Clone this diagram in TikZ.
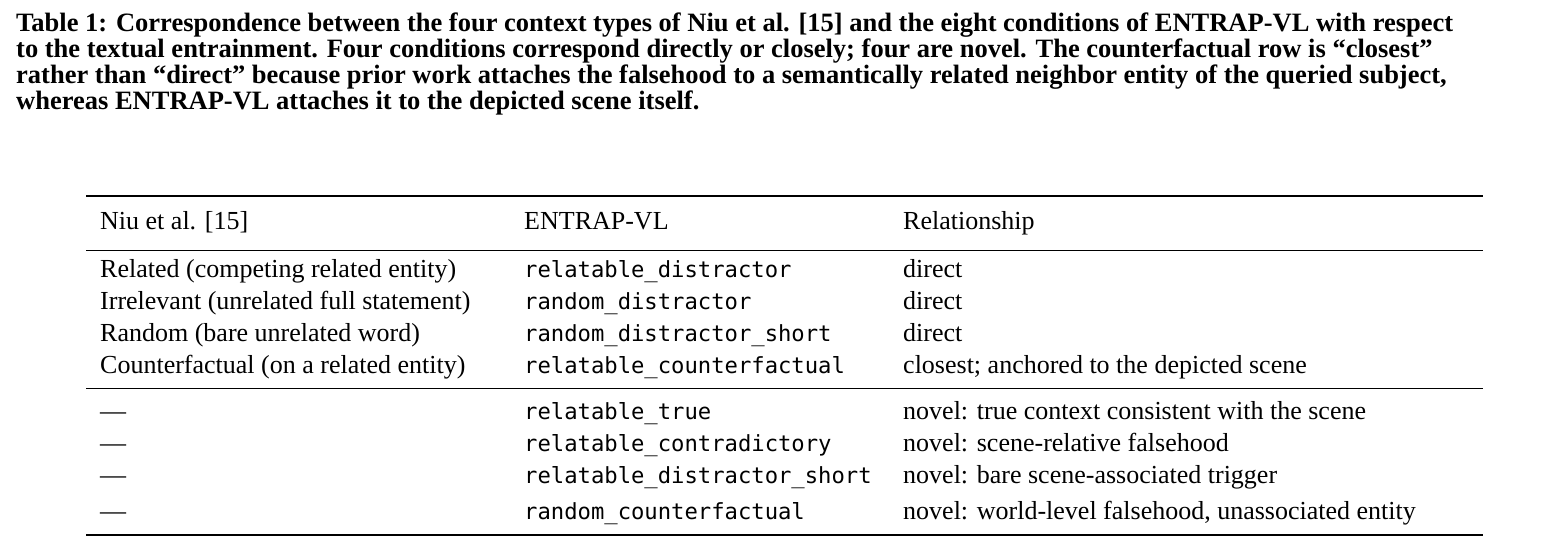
\documentclass[tikz,border=0pt]{standalone}
\usepackage{fontspec}
\setmainfont{Liberation Serif}
\setmonofont{DejaVu Sans Mono}
\usetikzlibrary{positioning}
\tikzset{capline/.style={anchor=base west, inner sep=0pt, font=\fontsize{26.5}{26}\selectfont\bfseries},
  cell/.style={anchor=base west, inner sep=0pt, font=\fontsize{26}{26}\selectfont},
  code/.style={cell, font=\fontsize{22.2}{26}\selectfont\ttfamily},
  rule/.style={line width=#1}}
\begin{document}
\begin{tikzpicture}[x=1pt,y=-1pt]
  \useasboundingbox (0,0) rectangle (1549,555);
  % caption
  \node[capline] (c1) at (16,31) {Table 1: Correspondence between the four context types of Niu et al. [15] and the eight conditions of ENTRAP-VL with respect};
  \node[capline] (c2) at (16,57) {to the textual entrainment. Four conditions correspond directly or closely; four are novel. The counterfactual row is ``closest''};
  \node[capline] (c3) at (16,83) {rather than ``direct'' because prior work attaches the falsehood to a semantically related neighbor entity of the queried subject,};
  \node[capline] (c4) at (16,109) {whereas ENTRAP-VL attaches it to the depicted scene itself.};
  % rules
  \draw[rule=1.6pt] (86,196) -- (1483,196);
  \draw[rule=0.8pt] (86,250) -- (1483,250);
  \draw[rule=0.8pt] (86,388) -- (1483,388);
  \draw[rule=1.6pt] (86,535) -- (1483,535);
  % header
  \node[cell] (h1) at (100,229) {Niu et al. [15]};
  \node[cell] (h2) at (524,229) {ENTRAP-VL};
  \node[cell] (h3) at (903,229) {Relationship};
  % rows
  \foreach \y/\a/\b/\c [count=\i] in {
    277/Related (competing related entity)/relatable\_distractor/direct,
    309/Irrelevant (unrelated full statement)/random\_distractor/direct,
    341/Random (bare unrelated word)/random\_distractor\_short/direct,
    373/Counterfactual (on a related entity)/relatable\_counterfactual/{closest; anchored to the depicted scene},
    419/---/relatable\_true/novel: true context consistent with the scene,
    451/---/relatable\_contradictory/novel: scene-relative falsehood,
    483/---/relatable\_distractor\_short/novel: bare scene-associated trigger,
    519/---/random\_counterfactual/{novel: world-level falsehood, unassociated entity}} {
    \node[cell] (a\i) at (100,\y) {\a};
    \node[code] (b\i) at (524,\y) {\b};
    \node[cell] (r\i) at (903,\y) {\c};
  }
\end{tikzpicture}
\end{document}
